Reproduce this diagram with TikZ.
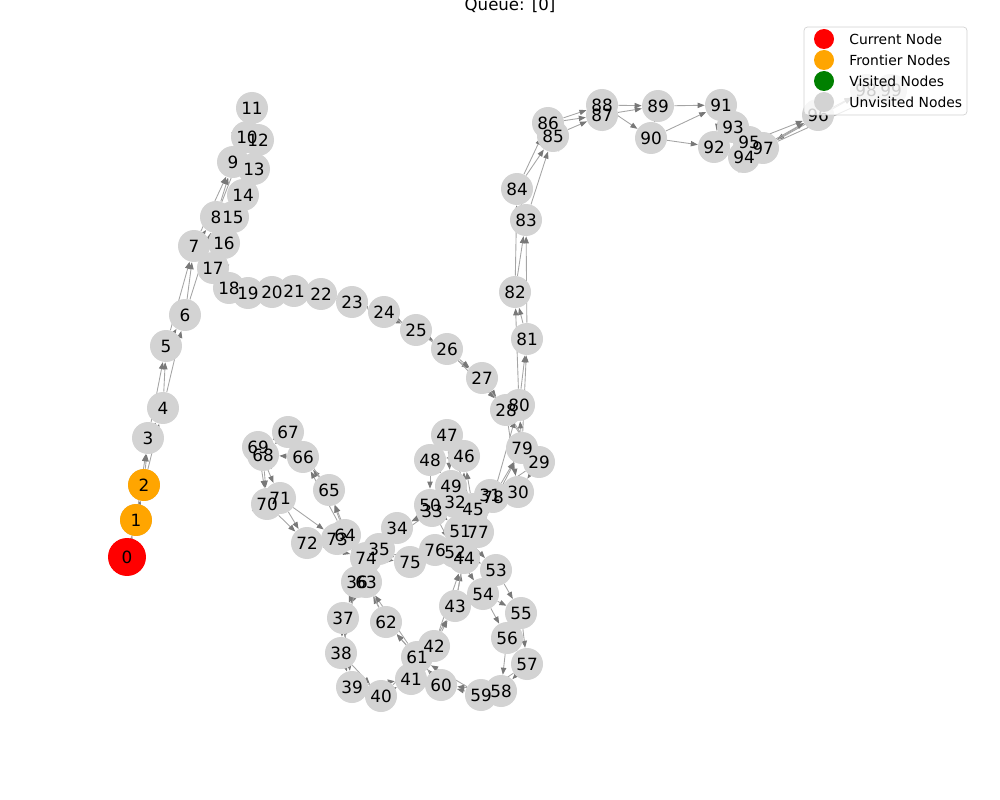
\documentclass[tikz,border=0pt]{standalone}
\usepackage{fontspec}
\setmainfont{DejaVu Sans}
\usetikzlibrary{arrows.meta}
\pgfdeclarelayer{background}
\pgfdeclarelayer{foreground}
\pgfdeclarelayer{top}
\pgfsetlayers{background,main,foreground,top}
\definecolor{unv}{RGB}{211,211,211}
\definecolor{front}{RGB}{255,165,0}
\definecolor{curr}{RGB}{255,0,0}
\definecolor{vis}{RGB}{0,128,0}
\definecolor{edgec}{RGB}{165,165,165}
\definecolor{tipc}{RGB}{120,120,120}
\tikzset{
  nd/.style={circle, fill=unv, minimum size=0.64cm, inner sep=0pt},
  lbl/.style={font=\fontsize{9.6}{10}\selectfont, inner sep=0pt},
  edge/.style={draw=edgec, line width=0.5pt, -{Triangle[length=4pt,width=3pt,color=tipc]}},
  legbox/.style={draw=gray!35, fill=white, fill opacity=0.8, rounded corners=2pt, minimum width=3.26cm, minimum height=1.76cm, inner sep=0pt},
  legdot/.style={circle, minimum size=0.4cm, inner sep=0pt},
  legtxt/.style={anchor=west, font=\fontsize{7.9}{9}\selectfont, inner sep=0pt},
}
\begin{document}
\begin{tikzpicture}[x=0.02cm,y=-0.02cm]
\useasboundingbox (0,0) rectangle (1000,800);
% nodes (circles)
\foreach \n/\px/\py in {
0/127/557, 1/136/520, 2/144/485, 3/148/438, 4/163/408, 5/166/346, 6/185/315,
7/194/246, 8/216/217, 9/233/162, 10/247/137, 11/252/108, 12/258/140, 13/254/169,
14/243/195, 15/233/217, 16/224/243, 17/213/268, 18/229/288, 19/248/293, 20/272/292,
21/294/291, 22/321/294, 23/352/302, 24/384/312, 25/416/330, 26/447/349, 27/482/378,
28/506/410, 29/539/462, 30/518/492, 31/490/495, 32/455/502, 33/432/511, 34/397/528,
35/379/549, 36/357/582, 37/343/618, 38/341/653, 39/352/687, 40/381/696, 41/411/679,
42/434/646, 43/455/606, 44/464/558, 45/473/509, 46/464/456, 47/447/435, 48/430/460,
49/451/486, 50/430/505, 51/460/531, 52/455/552, 53/496/570, 54/483/594, 55/521/613,
56/507/638, 57/527/664, 58/501/691, 59/481/695, 60/441/685, 61/417/657, 62/386/622,
63/366/582, 64/345/535, 65/329/490, 66/303/457, 67/288/432, 68/263/455, 69/258/447,
70/267/504, 71/280/498, 72/307/543, 73/337/539, 74/366/558, 75/410/562, 76/435/550,
77/478/532, 78/493/497, 79/522/448, 80/519/405, 81/527/339, 82/515/292, 83/526/220,
84/517/189, 85/553/136, 86/548/123, 87/602/115, 88/602/105, 89/658/106, 90/651/138,
91/721/105, 92/714/147, 93/733/127, 94/744/157, 95/749/142, 96/818/115, 97/763/148,
98/866/90, 99/891/90}
{
  \node[nd] (n\n) at (\px,\py) {};
  \begin{pgfonlayer}{foreground}
    \node[lbl] (t\n) at (\px,\py) {\n};
  \end{pgfonlayer}
}
% colored nodes
\node[nd, fill=front] (f1) at (n1) {};
\node[nd, fill=front] (f2) at (n2) {};
\node[nd, fill=curr, minimum size=0.76cm] (c0) at (n0) {};
% edges
\begin{pgfonlayer}{background}
\foreach \i in {0,...,98}{
  \pgfmathtruncatemacro\j{\i+1}
  \draw[edge] (n\i) -- (n\j);
}
\foreach \i in {0,...,97}{
  \pgfmathtruncatemacro\j{\i+2}
  \draw[edge] (n\i) -- (n\j);
}
\end{pgfonlayer}
% title
\node[font=\fontsize{9.45}{11}\selectfont] (title) at (510,5) {Queue: [0]};
% legend
\begin{pgfonlayer}{top}
\node[legbox] (legend) at (885.5,71) {};
\node[legdot, fill=curr] (ld1) at (824,39) {};
\node[legdot, fill=front] (ld2) at (824,60) {};
\node[legdot, fill=vis] (ld3) at (824,81) {};
\node[legdot, fill=unv] (ld4) at (824,102) {};
\node[legtxt] (lt1) at (849,39) {Current Node};
\node[legtxt] (lt2) at (849,60) {Frontier Nodes};
\node[legtxt] (lt3) at (849,81) {Visited Nodes};
\node[legtxt] (lt4) at (849,102) {Unvisited Nodes};
\end{pgfonlayer}
\end{tikzpicture}
\end{document}
